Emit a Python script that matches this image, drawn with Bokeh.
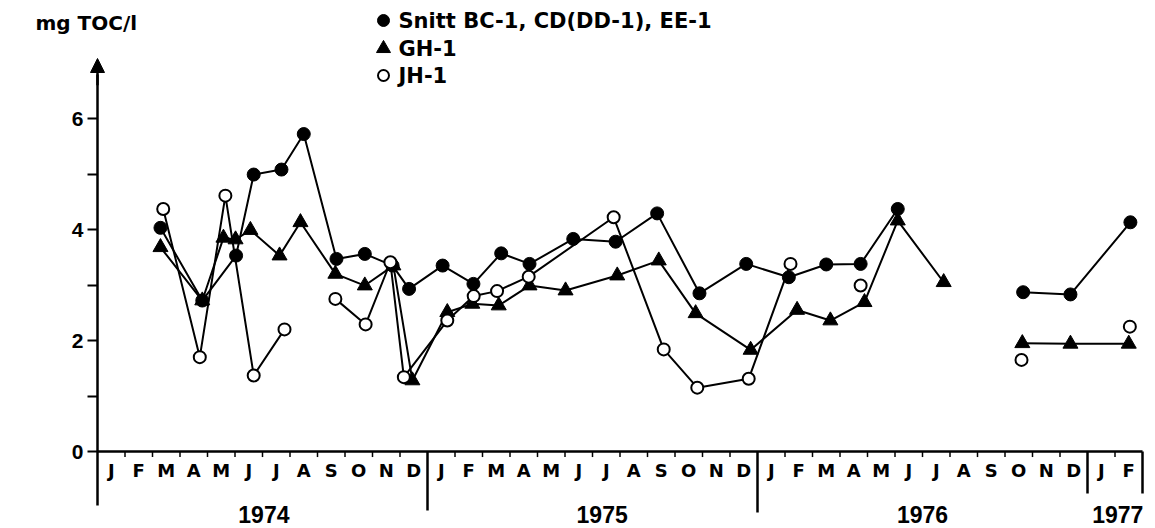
from bokeh.plotting import figure
from bokeh.models import Range1d, LinearAxis, FixedTicker, Arrow, NormalHead, Label
from bokeh.embed import file_html
from bokeh.resources import INLINE
from bokeh.core.properties import value

nan = float("nan")

# ---------------- data ----------------
# x = months since 1 Jan 1974 (sampling date), y = mg TOC/l ; nan = break in line
snitt_x = [2.29, 3.81, 5.04, 5.68, 6.69, 7.50, 8.69, 9.72, 10.73, 11.33, 12.55, 13.67,
           14.68, 15.71, 17.30, 18.84, 20.35, 21.89, 23.59, 25.14, 26.50, 27.75, 29.10,
           nan, 33.66, 35.38, 37.56]
snitt_y = [4.03, 2.72, 3.53, 4.99, 5.08, 5.72, 3.47, 3.56, 3.35, 2.93, 3.35, 3.02,
           3.57, 3.38, 3.83, 3.78, 4.29, 2.85, 3.38, 3.14, 3.37, 3.38, 4.37,
           nan, 2.87, 2.83, 4.13]

gh_x = [2.29, 3.81, 4.58, 5.02, 5.56, 6.62, 7.38, 8.65, 9.72, 10.76, 11.45, 12.72,
        13.63, 14.59, 15.71, 17.02, 18.90, 20.41, 21.75, 23.75, 25.44, 26.65, 27.89,
        29.10, 30.77, nan, 33.63, 35.38, 37.50]
gh_y = [3.68, 2.72, 3.85, 3.82, 3.99, 3.53, 4.13, 3.20, 2.99, 3.35, 1.28, 2.51,
        2.66, 2.63, 2.99, 2.90, 3.17, 3.44, 2.49, 1.83, 2.55, 2.36, 2.69,
        4.16, 3.05, nan, 1.95, 1.94, 1.94]

jh_x = [2.39, 3.72, 4.65, 5.68, 6.80, nan, 8.65, 9.75, 10.65, 11.14, 12.72, 13.68,
        14.53, 15.68, 18.77, 20.59, 21.81, 23.68, 25.20, nan, 27.75, nan, 33.60, nan, 37.54]
jh_y = [4.37, 1.70, 4.61, 1.37, 2.20, nan, 2.75, 2.29, 3.41, 1.34, 2.36, 2.80,
        2.89, 3.15, 4.22, 1.84, 1.15, 1.31, 3.38, nan, 2.99, nan, 1.65, nan, 2.25]

month_labels = ["J", "F", "M", "A", "M", "J", "J", "A", "S", "O", "N", "D"] * 3 + ["J", "F"]
year_labels = ["1974", "1975", "1976", "1977"]
y_ticks = [0, 2, 4, 6]
y_minor = [1, 3, 5]

series_names = ["Snitt  BC-1, CD(DD-1), EE-1", "GH-1", "JH-1"]
y_title = "mg TOC/l"

# ---------------- layout ----------------
FONT = "DejaVu Sans"
DIGIT_FONT = "Liberation Sans"
n_months = len(month_labels)
year_start = [0, 12, 24, 36]
year_x = [6.05, 18.35, 30.0, 37.1]

W, H = 1155, 528
X0_PX, MONTH_PX = 97.0, 27.5     # pixel of Jan 1974 start, pixels per month
Y0_PX, UNIT_PX = 451.0, 55.5     # pixel of y=0, pixels per mg/l


def px_x(px):
    return (px - X0_PX) / MONTH_PX


def px_y(py):
    return (Y0_PX - py) / UNIT_PX


p = figure(width=W, height=H, output_backend="svg", toolbar_location=None,
           x_range=Range1d(px_x(0), px_x(W)), y_range=Range1d(px_y(H), px_y(0)),
           x_axis_type=None, y_axis_type=None,
           min_border_left=0, min_border_right=0, min_border_top=0, min_border_bottom=0)
p.outline_line_color = None
p.background_fill_color = "white"
p.border_fill_color = "white"

yaxis = LinearAxis(ticker=FixedTicker(ticks=y_ticks, minor_ticks=y_minor),
                   bounds=(-0.973, 6.8), fixed_location=0)
yaxis.axis_line_width = 2.5
yaxis.axis_line_color = "black"
yaxis.major_tick_out = 10
yaxis.major_tick_in = 0
yaxis.minor_tick_out = 10
yaxis.minor_tick_in = 0
yaxis.major_tick_line_width = 2
yaxis.minor_tick_line_width = 2
yaxis.major_tick_line_color = "black"
yaxis.minor_tick_line_color = "black"
yaxis.major_label_text_font = DIGIT_FONT
yaxis.major_label_text_font_style = "bold"
yaxis.major_label_text_font_size = "21px"
yaxis.major_label_text_color = "black"
yaxis.major_label_standoff = 4
p.add_layout(yaxis, "left")

p.add_layout(Arrow(end=NormalHead(size=14, fill_color="black", line_color="black", line_width=1),
                   x_start=0, y_start=6.6, x_end=0, y_end=px_y(58),
                   line_width=2.5, line_color="black"))

# x axis line and month / year dividers
p.segment(x0=[0], y0=[0], x1=[n_months], y1=[0], line_width=2.5, line_color="black")
tick_x = [m for m in range(1, n_months) if m not in year_start]
p.segment(x0=tick_x, y0=[0] * len(tick_x), x1=tick_x, y1=[-0.1] * len(tick_x),
          line_width=1.5, line_color="black")
div_x = [12, 24, 36, n_months]
div_bottom = [px_y(510), px_y(512), px_y(493), px_y(493)]
p.segment(x0=div_x, y0=[0] * 4, x1=div_x, y1=div_bottom, line_width=2.5, line_color="black")

p.text(x=[m + 0.5 for m in range(n_months)], y=[px_y(470)] * n_months, text=month_labels,
       text_align="center", text_baseline="middle", text_font=value(FONT),
       text_font_style="bold", text_font_size="18px", text_color="black")
p.text(x=year_x, y=[px_y(514)] * 4, text=year_labels, text_align="center",
       text_baseline="middle", text_font=value(DIGIT_FONT), text_font_style="bold",
       text_font_size="23px", text_color="black")

# series
p.line(snitt_x, snitt_y, line_width=2, line_color="black")
p.line(gh_x, gh_y, line_width=2, line_color="black")
p.line(jh_x, jh_y, line_width=2, line_color="black")
p.scatter(snitt_x, snitt_y, marker="circle", size=13, fill_color="black", line_color="black")
p.scatter(gh_x, gh_y, marker="triangle", size=15, fill_color="black", line_color="black")
p.scatter(jh_x, jh_y, marker="circle", size=12, fill_color="white", line_color="black",
          line_width=2)

# legend (drawn as key markers + texts)
leg_y = [px_y(20), px_y(48), px_y(75)]
leg_mx = px_x(383)
leg_tx = px_x(398)
p.scatter([leg_mx], [leg_y[0]], marker="circle", size=12, fill_color="black", line_color="black")
p.scatter([leg_mx], [leg_y[1]], marker="triangle", size=14, fill_color="black", line_color="black")
p.scatter([leg_mx], [leg_y[2]], marker="circle", size=11, fill_color="white", line_color="black",
          line_width=2)
p.text(x=[leg_tx] * 3, y=leg_y, text=series_names, text_align="left", text_baseline="middle",
       text_font=value(FONT), text_font_style="bold", text_font_size="21px",
       text_color="black")

p.add_layout(Label(x=px_x(35), y=px_y(22), text=y_title,
                   text_align="left", text_baseline="middle",
                   text_font=FONT, text_font_style="bold", text_font_size="20px",
                   text_color="black"))

open("out.html", "w").write(file_html(p, INLINE))
